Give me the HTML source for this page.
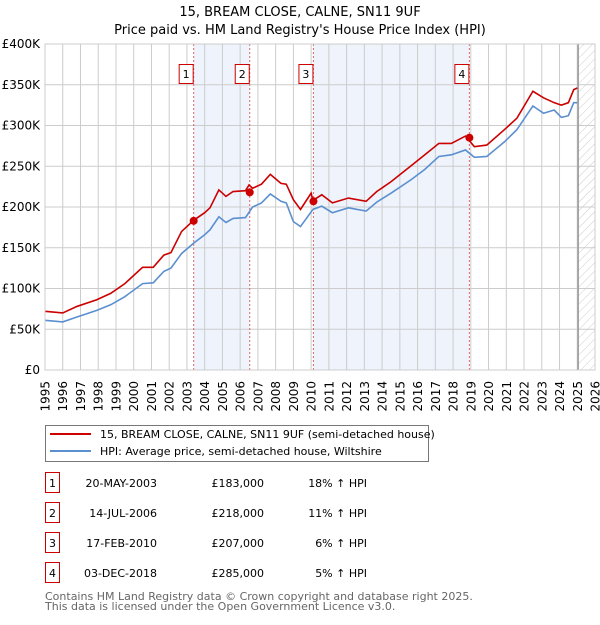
<!DOCTYPE html>
<html><head><meta charset="utf-8"><style>
body{margin:0;background:#fff;font-family:"Liberation Sans","DejaVu Sans",sans-serif;}
svg text{font-family:"DejaVu Sans","Liberation Sans",sans-serif;}
</style></head><body>
<svg id="c" width="600" height="620" xmlns="http://www.w3.org/2000/svg">
<defs><pattern id="hatch" width="6" height="6" patternUnits="userSpaceOnUse" patternTransform="rotate(45)"><line x1="0" y1="0" x2="0" y2="6" stroke="#ccc" stroke-width="1"/></pattern></defs>
<text x="300" y="16" text-anchor="middle" font-size="13">15, BREAM CLOSE, CALNE, SN11 9UF</text>
<text x="300" y="34" text-anchor="middle" font-size="13">Price paid vs. HM Land Registry's House Price Index (HPI)</text>
<g id="plot"></g>
<g>
<rect x="45.5" y="425.5" width="383" height="36" fill="#fff" stroke="#777"/>
<line x1="50" y1="434" x2="91" y2="434" stroke="#cc0000" stroke-width="2"/>
<text x="100" y="438" font-size="11">15, BREAM CLOSE, CALNE, SN11 9UF (semi-detached house)</text>
<line x1="50" y1="451" x2="91" y2="451" stroke="#5b8fd0" stroke-width="2"/>
<text x="100" y="455" font-size="11">HPI: Average price, semi-detached house, Wiltshire</text>
</g>
<g id="table"></g>
<text x="45" y="600" font-size="11" fill="#666">Contains HM Land Registry data © Crown copyright and database right 2025.</text>
<text x="45" y="610" font-size="11" fill="#666">This data is licensed under the Open Government Licence v3.0.</text>
</svg>
<script>
const hpiYears=[1995.0,1996.0,1996.8,1997.9,1998.7,1999.5,2000.5,2001.1,2001.7,2002.1,2002.7,2003.4,2004.0,2004.3,2004.8,2005.2,2005.6,2006.3,2006.7,2007.2,2007.7,2008.3,2008.6,2009.0,2009.4,2010.1,2010.6,2011.2,2012.1,2013.1,2013.7,2014.5,2015.6,2016.4,2017.2,2017.9,2018.7,2019.2,2019.9,2020.9,2021.6,2022.5,2023.1,2023.7,2024.1,2024.5,2024.8,2025.0];
const hpiValues=[61,59,65,73,80,90,106,107,121,125,143,156,166,172,188,181,186,187,200,205,216,207,205,182,176,197,201,193,199,195,206,217,233,246,262,264,270,261,262,280,295,324,315,319,310,312,328,328];
const propYears=[1995.0,1996.0,1996.8,1997.9,1998.7,1999.5,2000.5,2001.1,2001.7,2002.1,2002.7,2003.4,2004.0,2004.3,2004.8,2005.2,2005.6,2006.3,2006.5,2006.7,2007.2,2007.7,2008.3,2008.6,2009.0,2009.4,2010.0,2010.1,2010.6,2011.2,2012.1,2013.1,2013.7,2014.5,2015.6,2016.4,2017.2,2017.9,2018.7,2019.2,2019.9,2020.9,2021.6,2022.5,2023.1,2023.7,2024.1,2024.5,2024.8,2025.0];
const propValues=[72,70,78,86,94,106,126,126,141,144,170,184,193,199,221,213,219,220,227,223,228,240,229,228,209,197,217,208,215,205,211,207,219,231,250,264,278,278,287,274,276,295,309,342,334,328,325,328,344,346];
const saleLabels=["1","2","3","4"];
const saleYears=[2003.38,2006.54,2010.13,2018.92];
const salePrices=[183,218,207,285];
const saleDates=["20-MAY-2003","14-JUL-2006","17-FEB-2010","03-DEC-2018"];
const salePriceText=["£183,000","£218,000","£207,000","£285,000"];
const saleHpiText=["18% ↑ HPI","11% ↑ HPI","6% ↑ HPI","5% ↑ HPI"];
const yTicks=[0,50,100,150,200,250,300,350,400];
const yTickLabels=["£0","£50K","£100K","£150K","£200K","£250K","£300K","£350K","£400K"];
const xTicks=[1995,1996,1997,1998,1999,2000,2001,2002,2003,2004,2005,2006,2007,2008,2009,2010,2011,2012,2013,2014,2015,2016,2017,2018,2019,2020,2021,2022,2023,2024,2025,2026];
const dataEnd=2025.05;

const NS="http://www.w3.org/2000/svg";
const X0=45,X1=595,Y0=370,Y1=44;
const xs=y=>X0+(y-1995)/(2026-1995)*(X1-X0);
const ys=v=>Y0-v/400*(Y0-Y1);
const plot=document.getElementById('plot');
function mk(tag,attrs,parent){const e=document.createElementNS(NS,tag);for(const k in attrs)e.setAttribute(k,attrs[k]);(parent||plot).appendChild(e);return e;}

for(let i=0;i<saleYears.length;i+=2){
  const r=mk('rect',{x:xs(saleYears[i]),y:Y1,width:xs(saleYears[i+1])-xs(saleYears[i]),height:Y0-Y1,fill:'#eef3fc'});
  
  
}
const hr=mk('rect',{x:xs(dataEnd),y:Y1,width:X1-xs(dataEnd),height:Y0-Y1,fill:'url(#hatch)'});


xTicks.forEach(t=>{
  const l=mk('line',{x1:xs(t),x2:xs(t),y1:Y1,y2:Y0,stroke:'#ccc','stroke-width':1});
  
  
  const px=xs(t)+4.5, py=381;
  const tx=mk('text',{x:px,y:py,'text-anchor':'end','font-size':12,transform:`rotate(-90 ${px} ${py})`});
  tx.textContent=t;
  
  
});
yTicks.forEach((t,i)=>{
  const l=mk('line',{x1:X0,x2:X1,y1:ys(t),y2:ys(t),stroke:'#ccc','stroke-width':1});
  
  
  const tx=mk('text',{x:X0-5,y:ys(t)+4,'text-anchor':'end','font-size':12});
  tx.textContent=yTickLabels[i];
  
  
});
const de=mk('line',{x1:xs(dataEnd),x2:xs(dataEnd),y1:Y1,y2:Y0,stroke:'#999','stroke-width':1.5});


saleYears.forEach(y=>{
  const l=mk('line',{x1:xs(y),x2:xs(y),y1:Y1,y2:Y0,stroke:'#e06666','stroke-width':1,'stroke-dasharray':'2,2'});
  
  
});
const hp=mk('polyline',{points:hpiYears.map((y,i)=>xs(y)+','+ys(hpiValues[i])).join(' '),fill:'none',stroke:'#5b8fd0','stroke-width':1.6});


const pp=mk('polyline',{points:propYears.map((y,i)=>xs(y)+','+ys(propValues[i])).join(' '),fill:'none',stroke:'#cc0000','stroke-width':1.6});


saleYears.forEach((y,i)=>{
  const c=mk('circle',{cx:xs(y),cy:ys(salePrices[i]),r:4,fill:'#cc0000'});
  
  
  const b=mk('rect',{x:xs(y)-14.5,y:64.5,width:14,height:19,fill:'#fff',stroke:'#cc0000'});
  
  
  const t=mk('text',{x:xs(y)-7.5,y:78,'text-anchor':'middle','font-size':11});
  t.textContent=saleLabels[i];
  
  
});
const fr=mk('rect',{x:X0,y:Y1,width:X1-X0,height:Y0-Y1,fill:'none',stroke:'#ccc'});


const tb=document.getElementById('table');
saleLabels.forEach((s,i)=>{
  const cy=483+i*30;
  const b=mk('rect',{x:45.5,y:cy-10.5,width:14,height:20,fill:'#fff',stroke:'#cc0000'},tb);
  
  
  const t=mk('text',{x:52.5,y:cy+4,'text-anchor':'middle','font-size':11},tb);
  t.textContent=s;
  
  
  const d=mk('text',{x:157,y:cy+4,'text-anchor':'end','font-size':11},tb);
  d.textContent=saleDates[i];
  
  
  const p=mk('text',{x:264,y:cy+4,'text-anchor':'end','font-size':11},tb);
  p.textContent=salePriceText[i];
  
  
  const h=mk('text',{x:367,y:cy+4,'text-anchor':'end','font-size':11},tb);
  h.textContent=saleHpiText[i];
  
  
});
</script>
</body></html>
